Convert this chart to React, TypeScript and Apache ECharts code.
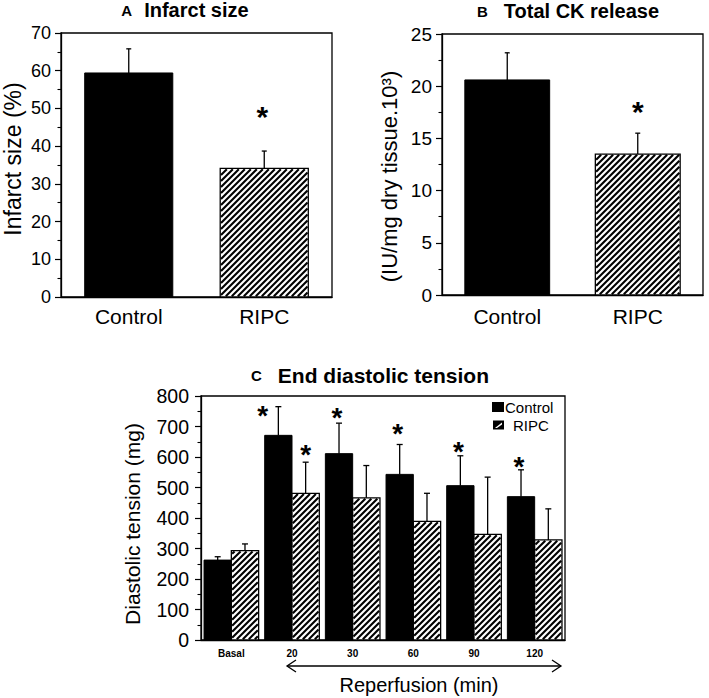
import React, { useEffect, useRef } from 'react';
import * as echarts from 'echarts';

const FONT = '"Liberation Sans", Arial, Helvetica, sans-serif';

// ---------- Panel A: Infarct size ----------
const groupCategories = ['Control', 'RIPC'];
const infarctMean = [59.4, 34.1];
const infarctSem = [6.4, 4.6];
const infarctStar: (number | null)[] = [null, 49.5];

// ---------- Panel B: Total CK release ----------
const ckMean = [20.6, 13.5];
const ckSem = [2.6, 2.0];
const ckStar: (number | null)[] = [null, 18.2];

// ---------- Panel C: End diastolic tension ----------
const timeCategories = ['Basal', '20', '30', '60', '90', '120'];
const edtControl = [262, 671, 611, 543, 506, 470];
const edtControlSem = [11, 94, 100, 98, 98, 88];
const edtRipc = [293, 481, 466, 389, 346, 328];
const edtRipcSem = [22, 102, 106, 92, 188, 102];
const edtControlStar: (number | null)[] = [null, 756, 751, 696, 639, 589];
const edtRipcStar: (number | null)[] = [null, 630, null, null, null, null];

const HATCH_STEP = 6;

function makeBarRender(widthFrac: number, offset: number, hatched: boolean) {
  return (_params: any, api: any) => {
    const cat = api.value(0);
    const v = api.value(1);
    const p = api.coord([cat, v]);
    const p0 = api.coord([cat, 0]);
    const band = api.size([1, 0])[0];
    const w = band * widthFrac;
    const x0 = p[0] + offset * w;
    const x1 = x0 + w;
    const y0 = p[1];
    const y1 = p0[1];
    const shape = { x: x0, y: y0, width: w, height: y1 - y0 };
    const children: any[] = [];
    if (!hatched) {
      children.push({ type: 'rect', shape, style: { fill: '#000', stroke: '#000', lineWidth: 1 } });
    } else {
      children.push({ type: 'rect', shape, style: { fill: '#fff' } });
      const inset = 0.8;
      const cx0 = x0 + inset, cx1 = x1 - inset, cy0 = y0 + inset, cy1 = y1 - inset;
      const cStart = Math.ceil((cx0 + cy0) / HATCH_STEP) * HATCH_STEP;
      for (let c = cStart; c < cx1 + cy1; c += HATCH_STEP) {
        const xa = Math.max(cx0, c - cy1);
        const xb = Math.min(cx1, c - cy0);
        if (xb - xa < 0.4) continue;
        children.push({
          type: 'line',
          shape: { x1: xa, y1: c - xa, x2: xb, y2: c - xb },
          style: { stroke: '#000', lineWidth: 2.1 },
        });
      }
      children.push({ type: 'rect', shape, style: { fill: 'none', stroke: '#000', lineWidth: 1.3 } });
    }
    return { type: 'group', children };
  };
}

function makeErrRender(widthFrac: number, centerOffset: number, capHalf: number) {
  return (_params: any, api: any) => {
    const cat = api.value(0);
    const m = api.value(1);
    const s = api.value(2);
    const band = api.size([1, 0])[0];
    const w = band * widthFrac;
    const pm = api.coord([cat, m]);
    const pt = api.coord([cat, m + s]);
    const x = pm[0] + centerOffset * w;
    const st = { stroke: '#000', lineWidth: 1.3 };
    return {
      type: 'group',
      children: [
        { type: 'line', shape: { x1: x, y1: pm[1], x2: x, y2: pt[1] }, style: st },
        { type: 'line', shape: { x1: x - capHalf, y1: pt[1], x2: x + capHalf, y2: pt[1] }, style: st },
      ],
    };
  };
}

function makeStarRender(widthFrac: number, centerOffset: number, fontSize: number, dx: number) {
  return (_params: any, api: any) => {
    const cat = api.value(0);
    const sv = api.value(1);
    const errTop = api.value(2);
    const band = api.size([1, 0])[0];
    const w = band * widthFrac;
    const p = api.coord([cat, sv]);
    const pe = api.coord([cat, errTop]);
    let x = p[0] + centerOffset * w + dx;
    // if the star would sit on the error bar, move it to the left
    if (pe[1] < p[1] + fontSize * 0.2) x -= w * 0.5;
    return {
      type: 'text',
      x,
      y: p[1] + fontSize * 0.22,
      style: {
        text: '*',
        fontSize,
        fontWeight: 'bold',
        fontFamily: FONT,
        fill: '#000',
        align: 'center',
        verticalAlign: 'middle',
      },
    };
  };
}

const pairs = (mean: number[], sem: number[]) => mean.map((m, i) => [i, m, sem[i]]);
const stars = (star: (number | null)[], mean: number[], sem: number[]) =>
  star
    .map((s, i) => (s == null ? null : [i, s, mean[i] + sem[i]]))
    .filter((d) => d != null) as number[][];

function valueAxis(gridIndex: number, max: number, interval: number, fontSize: number, margin: number, name: string, nameGap: number, nameSize: number, namePadding: number[]) {
  return {
    type: 'value',
    gridIndex,
    min: 0,
    max,
    interval,
    axisLine: { show: true, lineStyle: { color: '#000', width: 1.3 } },
    axisTick: { show: true, length: 6, lineStyle: { color: '#000', width: 1.2 } },
    minorTick: { show: true, splitNumber: 2, length: 3.5, lineStyle: { color: '#000', width: 1.1 } },
    splitLine: { show: false },
    axisLabel: { color: '#000', fontSize, fontFamily: FONT, margin },
    name,
    nameLocation: 'middle',
    nameGap,
    nameTextStyle: { color: '#000', fontSize: nameSize, fontFamily: FONT, padding: namePadding },
  };
}

function catAxis(gridIndex: number, data: string[], fontSize: number, margin: number, bold: boolean) {
  return {
    type: 'category',
    gridIndex,
    data,
    axisLine: { show: true, lineStyle: { color: '#000', width: 1.3 } },
    axisTick: { show: false },
    axisLabel: { color: '#000', fontSize, fontFamily: FONT, margin, fontWeight: bold ? 'bold' : 'normal', interval: 0 },
    splitLine: { show: false },
  };
}

export default function App() {
  const ref = useRef<HTMLDivElement>(null);

  useEffect(() => {
    if (!ref.current) return;
    const chart = echarts.init(ref.current, undefined, { renderer: 'svg' });
    const ABW = 0.65;
    const CBW = 0.45;
    const gridStyle = { show: true, borderColor: '#000', borderWidth: 1.3, backgroundColor: 'transparent' };

    const titleText = (x: number, y: number, letter: string, title: string, gap: number, big: number) => ({
      type: 'text',
      x,
      y,
      style: {
        text: `{l|${letter}}{g|}{t|${title}}`,
        align: 'center',
        verticalAlign: 'middle',
        rich: {
          l: { fontSize: 15, fontWeight: 'bold', fontFamily: FONT, fill: '#000' },
          g: { width: gap },
          t: { fontSize: big, fontWeight: 'bold', fontFamily: FONT, fill: '#000' },
        },
      },
    });

    const arrowY = 666;
    const ax0 = 287;
    const ax1 = 561;

    const option: any = {
      animation: false,
      backgroundColor: '#fff',
      grid: [
        { left: 61, top: 33, width: 271, height: 264, ...gridStyle },
        { left: 442, top: 34, width: 261, height: 261, ...gridStyle },
        { left: 201, top: 396, width: 364, height: 244, ...gridStyle },
      ],
      xAxis: [
        catAxis(0, groupCategories, 21, 9, false),
        catAxis(1, groupCategories, 21, 11, false),
        catAxis(2, timeCategories, 10, 8, true),
      ],
      yAxis: [
        valueAxis(0, 70, 10, 18, 10, 'Infarct size (%)', 37, 23, [0, 0, 0, 12]),
        valueAxis(1, 25, 5, 19, 10, '(IU/mg dry tissue.10³)', 42, 22, [0, 24, 0, 0]),
        valueAxis(2, 800, 100, 19.5, 12, 'Diastolic tension (mg)', 58, 21, [0, 12, 0, 0]),
      ],
      series: [
        // Panel A
        { type: 'custom', xAxisIndex: 0, yAxisIndex: 0, renderItem: makeBarRender(ABW, -0.5, false), data: [[0, infarctMean[0]]], encode: { x: 0, y: 1 } },
        { type: 'custom', xAxisIndex: 0, yAxisIndex: 0, renderItem: makeBarRender(ABW, -0.5, true), data: [[1, infarctMean[1]]], encode: { x: 0, y: 1 } },
        { type: 'custom', xAxisIndex: 0, yAxisIndex: 0, renderItem: makeErrRender(ABW, 0, 2.5), data: pairs(infarctMean, infarctSem), encode: { x: 0, y: 1 } },
        { type: 'custom', xAxisIndex: 0, yAxisIndex: 0, renderItem: makeStarRender(ABW, 0, 30, -2), data: stars(infarctStar, infarctMean, infarctSem), encode: { x: 0, y: 1 } },
        // Panel B
        { type: 'custom', xAxisIndex: 1, yAxisIndex: 1, renderItem: makeBarRender(ABW, -0.5, false), data: [[0, ckMean[0]]], encode: { x: 0, y: 1 } },
        { type: 'custom', xAxisIndex: 1, yAxisIndex: 1, renderItem: makeBarRender(ABW, -0.5, true), data: [[1, ckMean[1]]], encode: { x: 0, y: 1 } },
        { type: 'custom', xAxisIndex: 1, yAxisIndex: 1, renderItem: makeErrRender(ABW, 0, 2.5), data: pairs(ckMean, ckSem), encode: { x: 0, y: 1 } },
        { type: 'custom', xAxisIndex: 1, yAxisIndex: 1, renderItem: makeStarRender(ABW, 0, 30, 0), data: stars(ckStar, ckMean, ckSem), encode: { x: 0, y: 1 } },
        // Panel C
        { type: 'custom', name: 'Control', xAxisIndex: 2, yAxisIndex: 2, renderItem: makeBarRender(CBW, -1, false), data: edtControl.map((v, i) => [i, v]), encode: { x: 0, y: 1 } },
        { type: 'custom', name: 'RIPC', xAxisIndex: 2, yAxisIndex: 2, renderItem: makeBarRender(CBW, 0, true), data: edtRipc.map((v, i) => [i, v]), encode: { x: 0, y: 1 } },
        { type: 'custom', xAxisIndex: 2, yAxisIndex: 2, renderItem: makeErrRender(CBW, -0.5, 3), data: pairs(edtControl, edtControlSem), encode: { x: 0, y: 1 } },
        { type: 'custom', xAxisIndex: 2, yAxisIndex: 2, renderItem: makeErrRender(CBW, 0.5, 3), data: pairs(edtRipc, edtRipcSem), encode: { x: 0, y: 1 } },
        { type: 'custom', xAxisIndex: 2, yAxisIndex: 2, renderItem: makeStarRender(CBW, -0.5, 28, -2), data: stars(edtControlStar, edtControl, edtControlSem), encode: { x: 0, y: 1 } },
        { type: 'custom', xAxisIndex: 2, yAxisIndex: 2, renderItem: makeStarRender(CBW, 0.5, 28, 0), data: stars(edtRipcStar, edtRipc, edtRipcSem), encode: { x: 0, y: 1 } },
      ],
      graphic: [
        titleText(185, 10, 'A', 'Infarct size', 12, 20),
        titleText(568, 11, 'B', 'Total CK release', 16, 20),
        titleText(370, 375, 'C', 'End diastolic tension', 16, 21),
        // legend for panel C
        { type: 'rect', shape: { x: 492, y: 402, width: 12, height: 10 }, style: { fill: '#000' } },
        { type: 'text', x: 505, y: 407, style: { text: 'Control', fontSize: 15, fontFamily: FONT, fill: '#000', align: 'left', verticalAlign: 'middle' } },
        { type: 'rect', shape: { x: 493, y: 420.5, width: 11, height: 9 }, style: { fill: '#000' } },
        { type: 'polygon', shape: { points: [[495, 428], [502, 422.5], [502, 424.5], [497, 428]] }, style: { fill: '#fff' } },
        { type: 'text', x: 513, y: 425.5, style: { text: 'RIPC', fontSize: 15, fontFamily: FONT, fill: '#000', align: 'left', verticalAlign: 'middle' } },
        // reperfusion arrow
        { type: 'line', shape: { x1: ax0, y1: arrowY, x2: ax1, y2: arrowY }, style: { stroke: '#000', lineWidth: 1.3 } },
        { type: 'polyline', shape: { points: [[ax0 + 9, arrowY - 6], [ax0, arrowY], [ax0 + 9, arrowY + 6]] }, style: { stroke: '#000', lineWidth: 1.3, fill: 'none' } },
        { type: 'polyline', shape: { points: [[ax1 - 9, arrowY - 6], [ax1, arrowY], [ax1 - 9, arrowY + 6]] }, style: { stroke: '#000', lineWidth: 1.3, fill: 'none' } },
        { type: 'text', x: 419, y: 685, style: { text: 'Reperfusion (min)', fontSize: 20, fontFamily: FONT, fill: '#000', align: 'center', verticalAlign: 'middle' } },
      ],
    };
    chart.setOption(option);
    return () => chart.dispose();
  }, []);

  return (
    <div
      ref={ref}
      style={{ position: 'fixed', left: 0, top: 0, width: 709, height: 698, background: '#fff' }}
    />
  );
}
